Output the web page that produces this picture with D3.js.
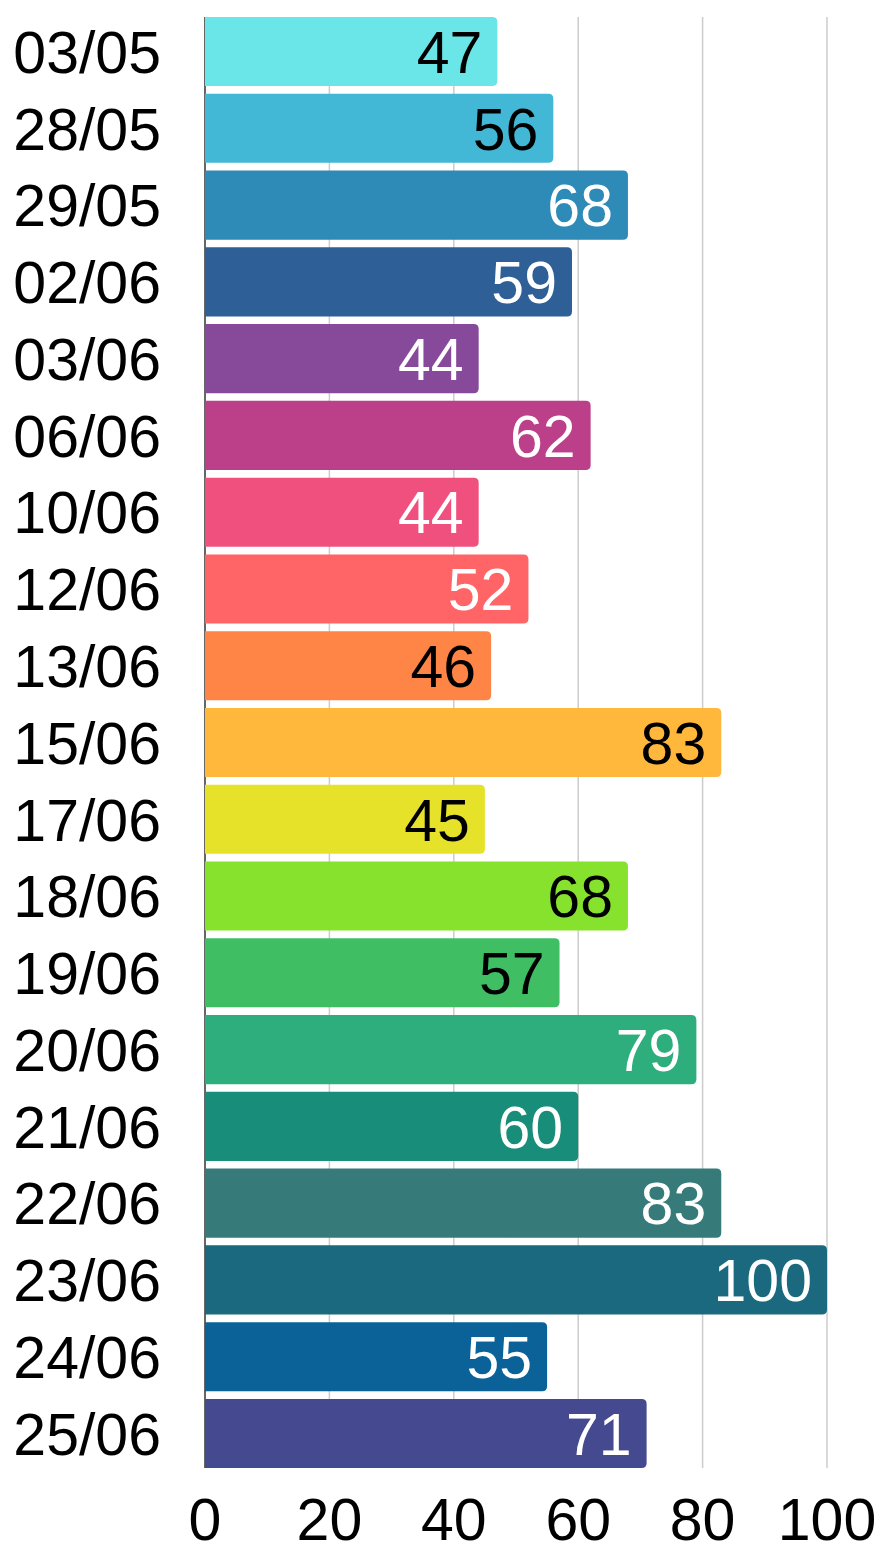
<html>
	<head>
		<title>Bars</title>
		<style>
			body { margin: 0; background: #fff; }
			svg { display: block; }
			text { font-family: Helvetica, Arial, "Liberation Sans", sans-serif; }
		</style>
	</head>
	<body>

		<svg id="chart" width="879" height="1549"></svg>

		<script src="https://d3js.org/d3.v7.min.js" charset="utf-8"></script>
		<script type="text/javascript">

			var dates = ['03/05', '28/05', '29/05', '02/06', '03/06', '06/06', '10/06', '12/06', '13/06', '15/06',
				'17/06', '18/06', '19/06', '20/06', '21/06', '22/06', '23/06', '24/06', '25/06'];
			var counts = [47, 56, 68, 59, 44, 62, 44, 52, 46, 83, 45, 68, 57, 79, 60, 83, 100, 55, 71];
			var colors = ['#6be6e8', '#42b8d6', '#2e8bb8', '#2f5f97', '#874a9a', '#bb4089', '#f0507e', '#ff6566',
				'#ff8547', '#ffb73c', '#e6e22a', '#86e22c', '#3fbe64', '#2fae7d', '#188d79', '#377a7a',
				'#1a697e', '#0a6298', '#45498f'];
			var labelColors = ['#000', '#000', '#fff', '#fff', '#fff', '#fff', '#fff', '#fff', '#000', '#000',
				'#000', '#000', '#000', '#fff', '#fff', '#fff', '#fff', '#fff', '#fff'];
			var ticks = [0, 20, 40, 60, 80, 100];

			var plotLeft = 205, plotRight = 827, plotTop = 17, plotBottom = 1468;
			var fontSize = 59;

			var svg = d3.select('#chart');

			var x = d3.scaleLinear().domain([0, 100]).range([plotLeft, plotRight]);
			var y = d3.scaleBand().domain(dates).range([plotTop, plotBottom]).paddingInner(0.1).paddingOuter(0);

			// grid
			svg.append('g')
				.selectAll('line')
				.data(ticks.slice(1))
				.enter()
				.append('line')
				.attr('x1', function(d) { return x(d); })
				.attr('x2', function(d) { return x(d); })
				.attr('y1', plotTop)
				.attr('y2', plotBottom)
				.attr('stroke', '#cccccc')
				.attr('stroke-width', 1.5);

			svg.append('line')
				.attr('x1', x(0)).attr('x2', x(0))
				.attr('y1', plotTop).attr('y2', plotBottom)
				.attr('stroke', '#666')
				.attr('stroke-width', 2);

			function barPath(i) {
				var x0 = x(0), x1 = x(counts[i]), y0 = y(dates[i]), h = y.bandwidth(), r = 5;
				return 'M' + x0 + ',' + y0 +
					'H' + (x1 - r) +
					'Q' + x1 + ',' + y0 + ' ' + x1 + ',' + (y0 + r) +
					'V' + (y0 + h - r) +
					'Q' + x1 + ',' + (y0 + h) + ' ' + (x1 - r) + ',' + (y0 + h) +
					'H' + x0 + 'Z';
			}

			var bars = svg.append('g')
				.selectAll('g')
				.data(counts)
				.enter()
				.append('g');

			bars.append('path')
				.attr('d', function(d, i) { return barPath(i); })
				.attr('fill', function(d, i) { return colors[i]; });

			bars.append('text')
				.attr('x', function(d) { return x(d) - 15; })
				.attr('y', function(d, i) { return y(dates[i]) + y.bandwidth() / 2; })
				.attr('dy', '0.36em')
				.attr('text-anchor', 'end')
				.attr('font-size', fontSize)
				.attr('fill', function(d, i) { return labelColors[i]; })
				.text(function(d) { return d; });

			// category labels
			svg.append('g')
				.selectAll('text')
				.data(dates)
				.enter()
				.append('text')
				.attr('x', plotLeft - 44)
				.attr('y', function(d) { return y(d) + y.bandwidth() / 2; })
				.attr('dy', '0.36em')
				.attr('text-anchor', 'end')
				.attr('font-size', fontSize)
				.attr('fill', '#000')
				.text(function(d) { return d; });

			// x tick labels
			svg.append('g')
				.selectAll('text')
				.data(ticks)
				.enter()
				.append('text')
				.attr('x', function(d) { return x(d); })
				.attr('y', 1540)
				.attr('text-anchor', 'middle')
				.attr('font-size', fontSize)
				.attr('fill', '#000')
				.text(function(d) { return d; });

		</script>
	</body>
</html>
